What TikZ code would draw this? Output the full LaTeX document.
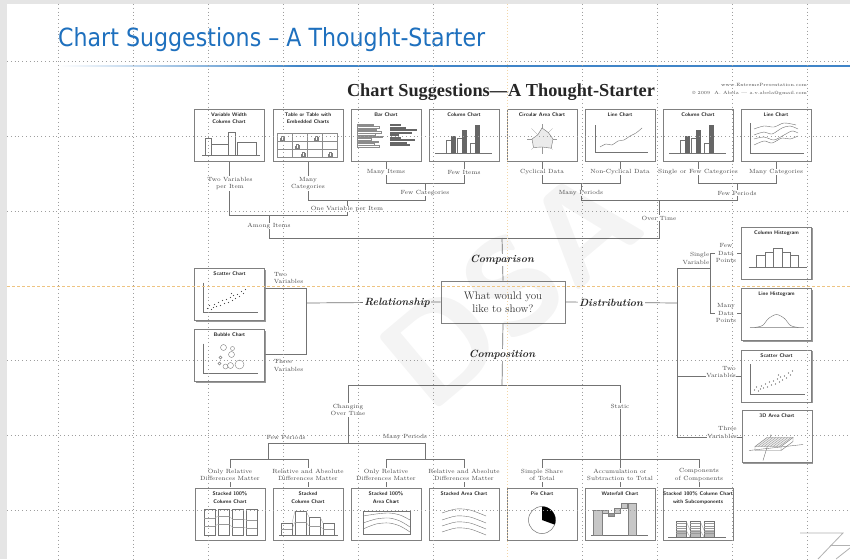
\documentclass[tikz,border=0pt]{standalone}
\usepackage{fontspec}
\newfontfamily\slidefont{DejaVu Sans}
\newfontfamily\headfont{Liberation Serif}
\usetikzlibrary{calc,shadows}
\definecolor{slideblue}{RGB}{30,112,190}
\definecolor{guideor}{RGB}{238,196,130}
\tikzset{
  conn/.style={draw=black!55, line width=0.7pt},
  lbl/.style={font=\fontsize{6}{7.6}\selectfont, text=black!72, align=center, inner sep=0.6pt, fill=white},
  lblnf/.style={font=\fontsize{6}{7.6}\selectfont, text=black!72, align=center, inner sep=0.6pt},
  chartbox/.style={draw=black!50, line width=0.7pt, fill=white, minimum width=70pt, minimum height=52pt, inner sep=0pt,
     drop shadow={shadow xshift=1.4pt, shadow yshift=-1.4pt, fill=black!50, opacity=0.8}},
  boxtitle/.style={font=\fontsize{5.2}{7.6}\selectfont\sffamily\bfseries, text=black!85, align=center, inner sep=0pt, anchor=north},
  cat/.style={font=\fontsize{10.5}{12}\selectfont\bfseries\itshape, text=black!85, fill=white, inner sep=1.5pt},
  mini/.style={draw=black!55, line width=0.4pt},
  grd/.style={draw=black!38, line width=0.6pt, dash pattern=on 0.8pt off 3pt},
}
\newcommand\chartat[5]{%
  \node[chartbox] (#1) at (#2,#3) {};
  \begin{scope}[shift={(#2,#3)}]
    \node[boxtitle] at (0,-22.5) {#4};
    #5
  \end{scope}}
\newcommand\colchartdraw{%
  \draw[mini] (-29,18)--(28,18);
  \draw[mini,fill=white] (-18,5) rectangle (-13,18);
  \fill[black!60] (-13,1) rectangle (-8,18);
  \draw[mini,fill=white] (-7,3) rectangle (-2,18);
  \fill[black!60] (-2,-5) rectangle (3,18);
  \draw[mini,fill=white] (6,8) rectangle (11,18);
  \fill[black!60] (11,-10) rectangle (16,18);}
\newcommand\tinybars[2]{%
  \draw[black!50,line width=0.3pt] (#1,#2) rectangle ++(1.2,-2) (#1+1.6,#2) rectangle ++(1.2,-3.6) (#1+3.2,#2) rectangle ++(1.2,-2.6);}
\newcommand\scatterdraw{%
  \draw[mini] (-26,-12)--(-26,18)--(28,18);
  \foreach \px/\py in {-22/14,-20/11,-18/15,-15/10,-13/12,-11/8,-9/11,-7/6,-5/9,-3/5,-1/8,1/3,3/6,4/1,6/4,8/0,10/2,12/-3,14/-1,16/-5,-16/13,2/-1}
    {\fill[black!70] (\px,\py) circle[radius=0.6];}}
\begin{document}
\begin{tikzpicture}[x=1pt,y=-1pt]
\useasboundingbox (0,0) rectangle (850,559);
\fill[white] (0,0) rectangle (850,559);
\fill[black!10] (0,0) rectangle (850,4);
\fill[black!10] (0,0) rectangle (7,559);

% slide title
\node[anchor=base west, inner sep=0pt, text=slideblue] (slidetitle) at (58,47)
  {\resizebox{427pt}{19pt}{\slidefont Chart Suggestions – A Thought-Starter}};
\shade[left color=white, right color=slideblue!85] (58,65.2) rectangle (300,67);
\fill[slideblue!85] (300,65.2) rectangle (850,67);

% chart title
\node[anchor=base, inner sep=0pt, text=black!85] (charttitle) at (501,96)
  {\resizebox{308pt}{!}{\headfont\bfseries\fontsize{19}{20}\selectfont Chart Suggestions—A Thought-Starter}};
\node[anchor=base east, inner sep=0pt, font=\fontsize{4.6}{5}\selectfont, text=black!70] (web) at (807,87) {www.ExtremePresentation.com};
\node[anchor=base east, inner sep=0pt, font=\fontsize{4.6}{5}\selectfont, text=black!70] (copy) at (807,95) {© 2009\ \ A. Abela — a.v.abela@gmail.com};

% ---------- connectors (drawn first, labels cover them) ----------
\coordinate (j215a) at (229,215); \coordinate (j215b) at (347,215);
\coordinate (j200a) at (308,200); \coordinate (j200b) at (425,200);
\coordinate (j183a) at (386,183); \coordinate (j183b) at (464,183);
\coordinate (j183c) at (542,183); \coordinate (j183d) at (620,183);
\coordinate (j183e) at (698,183); \coordinate (j183f) at (776,183);
\coordinate (j200c) at (581,200); \coordinate (j200d) at (737,200);
\coordinate (j238a) at (269,238); \coordinate (j238b) at (659,238);
\coordinate (j238c) at (502,238);

% question box
\node[draw=black!50, line width=0.7pt, fill=white, minimum width=124pt, minimum height=42pt, align=center,
      font=\fontsize{11}{13}\selectfont, text=black!80] (q) at (503,302) {What would you\\like to show?};

% top connectors
\draw[conn] (229,161) -- (j215a) -- (j215b) -- (347,200);
\draw[conn] (308,161) -- (j200a) -- (j200b) -- (425,183);
\draw[conn] (386,161) -- (j183a) -- (j183b) -- (464,161);
\draw[conn] (542,161) -- (j183c) -- (j183d) -- (620,161);
\draw[conn] (698,161) -- (j183e) -- (j183f) -- (776,161);
\draw[conn] (581,183) -- (j200c) -- (j200d) -- (737,183);
\draw[conn] (659,200) -- (j238b) -- (j238a) -- (269,215);
\draw[conn] (j238c) -- (q.north);

% bottom connectors
\coordinate (c385a) at (348,385); \coordinate (c385b) at (620,385);
\draw[conn] (q.south) -- (502,385);
\draw[conn] (c385a) -- (c385b);
\draw[conn] (c385a) -- (348,443);
\draw[conn] (268,459) -- (268,443) -- (425,443) -- (425,459);
\draw[conn] (230,487) -- (230,459) -- (308,459) -- (308,487);
\draw[conn] (386,487) -- (386,459) -- (464,459) -- (464,487);
\draw[conn] (c385b) -- (620,487);
\draw[conn] (542,487) -- (542,459) -- (699,459) -- (699,487);

% left connectors
\coordinate (rj) at (306,303);
\draw[conn] (q.west) -- (rj);
\draw[conn] (265,288) -- (306,288) -- (306,354) -- (265,354);

% right connectors
\coordinate (dj) at (677,303);
\draw[conn] (q.east) -- (dj);
\draw[conn] (677,268) -- (677,437);
\draw[conn] (677,268) -- (710,268);
\draw[conn] (742,253) -- (710,253) -- (710,313) -- (742,313);
\draw[conn] (677,376) -- (742,376);
\draw[conn] (677,437) -- (742,437);

% ---------- chart boxes ----------
\chartat{t1}{229}{135}{Variable Width\\Column Chart}{%
  \draw[mini] (-24,3) rectangle (-18,20);
  \draw[mini] (-18,9) rectangle (-1,20);
  \draw[mini] (-1,-3) rectangle (6,20);
  \draw[mini] (8,7) rectangle (27,20);
  \draw[mini] (-27,20.5)--(31,20.5);}
\chartat{t2}{308}{135}{Table or Table with\\Embedded Charts}{%
  \draw[black!45,line width=0.4pt] (-31,-2) rectangle (29,22);
  \draw[black!45,line width=0.4pt] (-16,-2)--(-16,22) (-1,-2)--(-1,22) (14,-2)--(14,22) (-31,6)--(29,6) (-31,14)--(29,14);
  \tinybars{-28}{5}\tinybars{6}{5}\tinybars{-13}{13}\tinybars{-7}{21}\tinybars{20}{21}}
\chartat{t3}{386}{135}{Bar Chart}{%
  \foreach \yy/\ll in {-11/16,-8.6/22,-6.2/19,-3.8/24,-1.4/18,1/25,3.4/14,5.8/21,8.2/17,10.6/22}
    {\draw[black!45,line width=0.3pt] (-29,\yy) rectangle ++(\ll,1.5);}
  \foreach \yy/\ll in {-11/11,-8.5/16,-6/27,-3.5/22,-1/9,1.5/11,4/25,6.5/17,9/20}
    {\fill[black!60] (4,\yy) rectangle ++(\ll,2);}}
\chartat{t4}{464}{135}{Column Chart}{\colchartdraw}
\chartat{t5}{542}{135}{Circular Area Chart}{%
  \foreach \a in {0,45,...,315} {\draw[black!40,line width=0.3pt] (0,4) -- ++(\a:15);}
  \draw[mini,fill=black!8] (11,4)--(9.2,13.2)--(0,12)--(-8.5,12.5)--(-10,4)--(-4.2,-0.2)--(0,-7)--(6.4,-2.4)--cycle;}
\chartat{t6}{620}{135}{Line Chart}{%
  \draw[mini] (-25,-10)--(-25,17)--(28,17);
  \draw[mini] plot[smooth] coordinates {(-20,12)(-14,9)(-8,10)(-2,6)(4,5)(10,1)(16,-2)(22,-7)};}
\chartat{t7}{698}{135}{Column Chart}{\colchartdraw}
\chartat{t8}{776}{135}{Line Chart}{%
  \draw[mini] (-26,-12)--(-26,18)--(28,18);
  \draw[mini] plot[smooth] coordinates {(-22,-6)(-12,-9)(-2,-8)(8,-12)(20,-10)};
  \draw[mini] plot[smooth] coordinates {(-22,0)(-12,-3)(-4,-1)(6,-7)(14,-9)(22,-6)};
  \draw[mini] plot[smooth] coordinates {(-22,4)(-12,2)(-2,5)(8,0)(16,-4)(22,-2)};
  \draw[mini] plot[smooth] coordinates {(-22,10)(-12,6)(-4,8)(6,3)(14,4)(22,1)};}

\chartat{l1}{229.5}{294.5}{Scatter Chart}{\scatterdraw}
\chartat{l2}{229.5}{355.5}{Bubble Chart}{%
  \draw[mini] (-26,-12)--(-26,18)--(28,18);
  \foreach \bx/\by/\br in {-6/-8/3,3/-7/2,2/-1/3,-10/8/1.5,-4/11/2.5,1/10/3,10/9/4.5,-9/2/1.5}
    {\draw[black!50,line width=0.4pt] (\bx,\by) circle[radius=\br];}}

\chartat{r1}{776.5}{253}{Column Histogram}{%
  \draw[mini] (-28,14)--(30,14);
  \draw[mini] (-20,2) rectangle (-11.6,14);
  \draw[mini] (-11.6,-1) rectangle (-3.2,14);
  \draw[mini] (-3.2,-5) rectangle (5.2,14);
  \draw[mini] (5.2,-1) rectangle (13.6,14);
  \draw[mini] (13.6,2) rectangle (22,14);}
\chartat{r2}{776.5}{314.5}{Line Histogram}{%
  \draw[black!35,line width=0.6pt] (-27,13)--(27,13);
  \draw[mini] plot[smooth] coordinates {(-22,13)(-14,11)(-8,4)(0,0)(8,4)(14,11)(22,13)};}
\chartat{r3}{776.5}{376}{Scatter Chart}{\scatterdraw}
\chartat{r4}{777}{436.5}{3D Area Chart}{%
  \draw[mini] (-28,14)--(26,8);
  \draw[mini] (-14,24)--(-6,-2);
  \draw[mini,fill=black!8] (-22,10)--(-10,1)--(16,1)--(4,10)--cycle;
  \foreach \hx in {-7,-4,...,14} {\draw[black!45,line width=0.25pt] (\hx,1)--(\hx-12,10);}
  \draw[mini] (-22,10)--(-22,14)--(4,14)--(4,10) (4,14)--(16,5)--(16,1);}

\chartat{b1}{230}{514}{Stacked 100\%\\Column Chart}{%
  \foreach \xa/\ha/\hb in {-26/4/12,-12/2/10,2/5/13,16/6/14}
    {\draw[mini] (\xa,-5) rectangle ++(11,26);
     \draw[black!40,line width=0.3pt] (\xa,\ha) -- ++(11,0) (\xa,\hb) -- ++(11,0);}
  \draw[black!35,line width=0.3pt] (-15,4)--(-12,2) (-1,2)--(2,5) (13,5)--(16,6) (-15,12)--(-12,10) (-1,10)--(2,13) (13,13)--(16,14);}
\chartat{b2}{308}{514}{Stacked\\Column Chart}{%
  \draw[mini] (-29,21)--(30,21);
  \foreach \xa/\ta/\ma in {-27/9/15,-13/-3/8,1/3/12,15/9/15}
    {\draw[mini] (\xa,\ta) rectangle ++(11,21-\ta);
     \draw[black!40,line width=0.3pt] (\xa,\ma) -- ++(11,0);}
  \draw[black!35,line width=0.3pt] (-16,9)--(-13,-3) (-2,-3)--(1,3) (12,3)--(15,9) (-16,15)--(-13,8) (-2,8)--(1,12) (12,12)--(15,15);}
\chartat{b3}{386}{514}{Stacked 100\%\\Area Chart}{%
  \draw[mini] (-23,-3) rectangle (24,20);
  \draw[mini] plot[smooth] coordinates {(-23,2)(-10,0)(3,-1)(14,1)(24,6)};
  \draw[mini] plot[smooth] coordinates {(-23,9)(-10,5)(3,4)(14,7)(24,13)};
  \draw[mini] plot[smooth] coordinates {(-23,15)(-10,10)(3,9)(14,12)(24,18)};}
\chartat{b4}{464}{514}{Stacked Area Chart}{%
  \draw[mini] plot[smooth] coordinates {(-22,-1)(-8,-5)(6,-4)(22,2)};
  \draw[mini] plot[smooth] coordinates {(-22,6)(-8,2)(6,3)(22,9)};
  \draw[mini] plot[smooth] coordinates {(-22,12)(-8,8)(6,9)(22,15)};
  \draw[mini] plot[smooth] coordinates {(-22,18)(-8,14)(6,15)(22,21)};}
\chartat{b5}{542}{514}{Pie Chart}{%
  \draw[black!55,line width=0.5pt] (0,6) circle[radius=13.5];
  \fill[black] (0,6) -- plot[domain=-90:20, samples=25] ({13.5*cos(\x)},{6+13.5*sin(\x)}) -- cycle;}
\chartat{b6}{620}{514}{Waterfall Chart}{%
  \draw[mini] (-29,21)--(28,21);
  \draw[black!50,line width=0.4pt,fill=black!22] (-27,-4) rectangle (-18,21);
  \draw[black!50,line width=0.4pt,fill=black!22] (-18,-4) rectangle (-12,-1);
  \draw[black!50,line width=0.4pt,fill=black!40] (-12,-1) rectangle (-6,2);
  \draw[black!50,line width=0.4pt,fill=black!22] (-6,-6) rectangle (0,-1);
  \draw[black!50,line width=0.4pt,fill=black!22] (1,-11) rectangle (7,-6);
  \draw[black!50,line width=0.4pt,fill=black!22] (8,-11) rectangle (16,21);}
\chartat{b7}{698}{514}{Stacked 100\% Column Chart\\with Subcomponents}{%
  \draw[mini] (-30,23)--(28,23);
  \foreach \xa in {-22,-8,6}
    {\fill[black!28] (\xa,16) rectangle ++(10,7);
     \draw[mini] (\xa,7) rectangle ++(10,16);
     \foreach \yy in {9.5,12,14.5,17,19.5} {\draw[black!40,line width=0.3pt] (\xa,\yy) -- ++(10,0);}}
  \draw[black!40,line width=0.3pt] (-12,7)--(-8,16) (2,7)--(6,16) (-12,16)--(-8,23) (2,16)--(6,23);}

% ---------- labels ----------
\node[lbl] (lTwoVar) at (230,183.5) {Two Variables\\per Item};
\node[lbl] (lManyCat) at (308,183.5) {Many\\Categories};
\node[lbl] (lManyItems) at (386,172) {Many Items};
\node[lbl] (lFewItems) at (464,172) {Few Items};
\node[lbl] (lFewCat) at (425,193) {Few Categories};
\node[lbl] (lOneVar) at (347,209) {One Variable per Item};
\node[lbl] (lAmong) at (269,226) {Among Items};
\node[lbl] (lCyc) at (542,172) {Cyclical Data};
\node[lbl] (lNonCyc) at (620,172) {Non-Cyclical Data};
\node[lbl] (lSingleFew) at (698,172) {Single or Few Categories};
\node[lbl] (lManyCat2) at (776,172) {Many Categories};
\node[lbl] (lManyPer) at (581,193) {Many Periods};
\node[lbl] (lFewPer) at (737,193) {Few Periods};
\node[lbl] (lOverTime) at (659,218) {Over Time};

\node[cat] (comparison) at (502,260) {Comparison};
\node[cat] (composition) at (502,355) {Composition};
\node[cat] (relationship) at (397,303) {Relationship};
\node[cat] (distribution) at (611,303) {Distribution};

\node[lblnf, anchor=west, align=left] (lTwoVarL) at (273,278) {Two\\Variables};
\node[lblnf, anchor=west, align=left] (lThreeVarL) at (273,365.5) {Three\\Variables};

\node[lblnf, align=right] (lSingleVar) at (696,258.5) {Single\\Variable};
\node[lbl] (lFewData) at (726,253) {Few\\Data\\Points};
\node[lbl] (lManyData) at (726,313) {Many\\Data\\Points};
\node[lbl, align=right] (lTwoVarR) at (721,372) {Two\\Variables};
\node[lbl, align=right] (lThreeVarR) at (722,432.5) {Three\\Variables};

\node[lbl] (lChanging) at (348,410) {Changing\\Over Time};
\node[lblnf] (lFewPerB) at (286,437) {Few Periods};
\node[lblnf] (lManyPerB) at (405,437) {Many Periods};
\node[lbl] (lStatic) at (620,406) {Static};
\node[lbl] (lOnlyRel1) at (230,475) {Only Relative\\Differences Matter};
\node[lbl] (lRelAbs1) at (308,475) {Relative and Absolute\\Differences Matter};
\node[lbl] (lOnlyRel2) at (386,475) {Only Relative\\Differences Matter};
\node[lbl] (lRelAbs2) at (464,475) {Relative and Absolute\\Differences Matter};
\node[lbl] (lSimple) at (542,475) {Simple Share\\of Total};
\node[lbl] (lAccum) at (620,475) {Accumulation or\\Subtraction to Total};
\node[lbl] (lCompComp) at (699,475) {Components\\of Components};

% watermark
\node[rotate=40, font=\fontsize{135}{135}\sffamily\bfseries, text=black, opacity=0.045] (wm) at (510,288) {DSA};

% corner logo
\draw[black!30, line width=0.8pt] (800,533) -- (843,533) -- (818,559);
\draw[black!30, line width=0.8pt] (830,545) -- (850,545);
\draw[black!30, line width=0.8pt] (836,559) -- (850,548);

% guides and grid
\foreach \gx in {58,133,...,433,582,657,732,807} {\draw[grd] (\gx,4) -- (\gx,559);}
\foreach \gy in {61,136,211,360,435,510} {\draw[grd] (7,\gy) -- (850,\gy);}
\draw[guideor, line width=0.7pt, dash pattern=on 3pt off 2pt] (7,286) -- (850,286);
\draw[guideor!70, line width=0.6pt, dash pattern=on 1pt off 2pt] (507,4) -- (507,559);
\end{tikzpicture}
\end{document}
